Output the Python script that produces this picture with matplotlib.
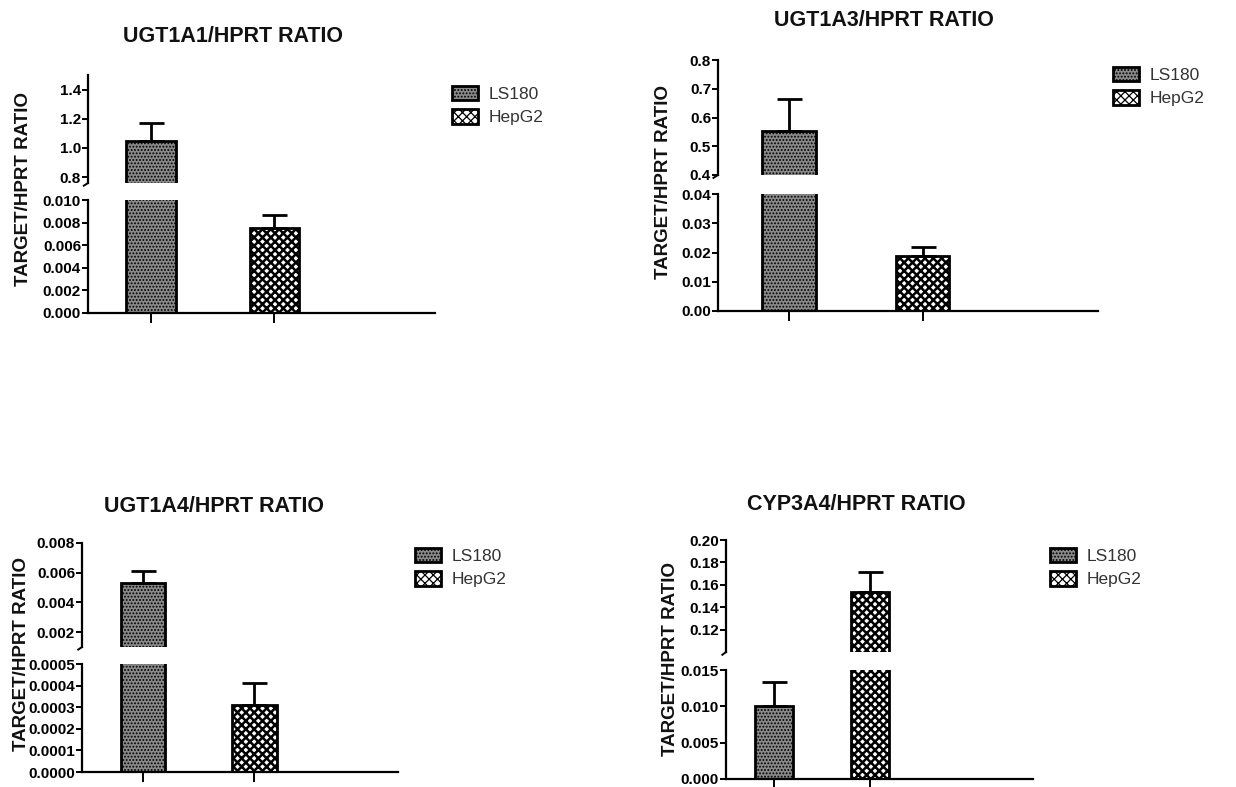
import matplotlib
matplotlib.use("Agg")
import matplotlib.pyplot as plt

plt.rcParams['font.family'] = ['Liberation Sans', 'DejaVu Sans']
plt.rcParams['hatch.color'] = 'black'
plt.rcParams['hatch.linewidth'] = 0.9

W, H = 1236, 787

cells = ['LS180', 'HepG2']

# UGT1A1
a1_vals = [1.05, 0.0075]
a1_err = [0.12, 0.0012]
a1_upper_ticks = [0.8, 1.0, 1.2, 1.4]
a1_lower_ticks = [0.000, 0.002, 0.004, 0.006, 0.008, 0.010]

# UGT1A3
a3_vals = [0.553, 0.0188]
a3_err = [0.112, 0.0031]
a3_upper_ticks = [0.4, 0.5, 0.6, 0.7, 0.8]
a3_lower_ticks = [0.00, 0.01, 0.02, 0.03, 0.04]

# UGT1A4
a4_vals = [0.0053, 0.00031]
a4_err = [0.0008, 0.00010]
a4_upper_ticks = [0.002, 0.004, 0.006, 0.008]
a4_lower_ticks = [0.0, 0.0001, 0.0002, 0.0003, 0.0004, 0.0005]

# CYP3A4
c4_vals = [0.0100, 0.154]
c4_err = [0.0033, 0.017]
c4_upper_ticks = [0.12, 0.14, 0.16, 0.18, 0.20]
c4_lower_ticks = [0.000, 0.005, 0.010, 0.015]

fig = plt.figure(figsize=(W / 100, H / 100), dpi=100)


def px_axes(l, t, r, b):
    return fig.add_axes([l / W, 1 - b / H, (r - l) / W, (b - t) / H])


def draw_bar(ax, i, v, label):
    if i == 0:
        return ax.bar(i, v, width=0.4, color='#8a8a8a', hatch='.....',
                      edgecolor='black', linewidth=2, label=label)
    with plt.rc_context({'hatch.linewidth': 1.8}):
        return ax.bar(i, v, width=0.4, color='white', hatch='xxxx',
                      edgecolor='black', linewidth=2, label=label)


def panel(title, vals, errs, up_ticks, lo_ticks, up_lim, lo_lim, fmt_up, fmt_lo,
          box, up_bottom, lo_top, xlim, title_xy, ylab_xy, leg_xy):
    l, t, r, b = box
    ax_up = px_axes(l, t, r, up_bottom)
    ax_lo = px_axes(l, lo_top, r, b)
    handles = []
    for ax in (ax_up, ax_lo):
        for i, v in enumerate(vals):
            bc = draw_bar(ax, i, v, cells[i])
            ax.errorbar(i, v, yerr=[[0], [errs[i]]], fmt='none', ecolor='black',
                        elinewidth=2, capsize=9, capthick=2)
            if ax is ax_lo:
                handles.append(bc)
        ax.set_xlim(*xlim)
        for s in ('top', 'right'):
            ax.spines[s].set_visible(False)
        ax.spines['left'].set_linewidth(1.6)
        ax.tick_params(axis='y', direction='out', length=4, width=1.4, labelsize=11, pad=1)
    ax_up.set_ylim(*up_lim)
    ax_up.set_yticks(up_ticks)
    ax_up.set_yticklabels([fmt_up.format(v) for v in up_ticks], fontweight='bold')
    ax_up.spines['bottom'].set_visible(False)
    ax_up.set_xticks([])
    ax_up.plot([0, -0.012], [0, -0.025], transform=ax_up.transAxes, color='black',
               lw=1.4, clip_on=False)
    ax_lo.set_ylim(*lo_lim)
    ax_lo.set_yticks(lo_ticks)
    ax_lo.set_yticklabels([fmt_lo.format(v) for v in lo_ticks], fontweight='bold')
    ax_lo.spines['bottom'].set_linewidth(1.6)
    ax_lo.set_xticks([0, 1])
    ax_lo.set_xticklabels(['', ''])
    ax_lo.tick_params(axis='x', direction='out', length=7, width=1.4)

    fig.text(title_xy[0] / W, 1 - title_xy[1] / H, title, ha='center', va='center',
             fontsize=15.5, fontweight='bold', color='#111111')
    fig.text(ylab_xy[0] / W, 1 - ylab_xy[1] / H, 'TARGET/HPRT RATIO', ha='center',
             va='center', rotation=90, fontsize=13.5, fontweight='bold', color='#111111')
    leg = fig.legend(handles, cells, loc='upper left',
                     bbox_to_anchor=(leg_xy[0] / W, 1 - leg_xy[1] / H), frameon=False,
                     fontsize=12.5, handlelength=1.5, handleheight=0.9, handletextpad=0.6,
                     labelspacing=0.4, borderaxespad=0, borderpad=0)
    for txt in leg.get_texts():
        txt.set_color('#333333')


panel('UGT1A1/HPRT RATIO', a1_vals, a1_err, a1_upper_ticks, a1_lower_ticks,
      (0.76, 1.5), (0, 0.010), '{:.1f}', '{:.3f}',
      (88, 75, 435, 313), 183, 200, (-0.51, 2.3),
      (233, 37), (24, 189), (452, 86))

panel('UGT1A3/HPRT RATIO', a3_vals, a3_err, a3_upper_ticks, a3_lower_ticks,
      (0.4, 0.8), (0, 0.04), '{:.1f}', '{:.2f}',
      (718, 60, 1098, 311), 175, 194, (-0.53, 2.31),
      (884, 21), (663, 182), (1113, 67))

panel('UGT1A4/HPRT RATIO', a4_vals, a4_err, a4_upper_ticks, a4_lower_ticks,
      (0.001, 0.008), (0, 0.0005), '{:.3f}', '{:.4f}',
      (82, 543, 398, 772), 647, 664, (-0.55, 2.29),
      (214, 506), (22, 654), (415, 548))

panel('CYP3A4/HPRT RATIO', c4_vals, c4_err, c4_upper_ticks, c4_lower_ticks,
      (0.10, 0.20), (0, 0.015), '{:.2f}', '{:.3f}',
      (726, 540, 1033, 779), 652, 670, (-0.5, 2.7),
      (856, 504), (670, 659), (1050, 548))

fig.savefig('out.png', dpi=100)
